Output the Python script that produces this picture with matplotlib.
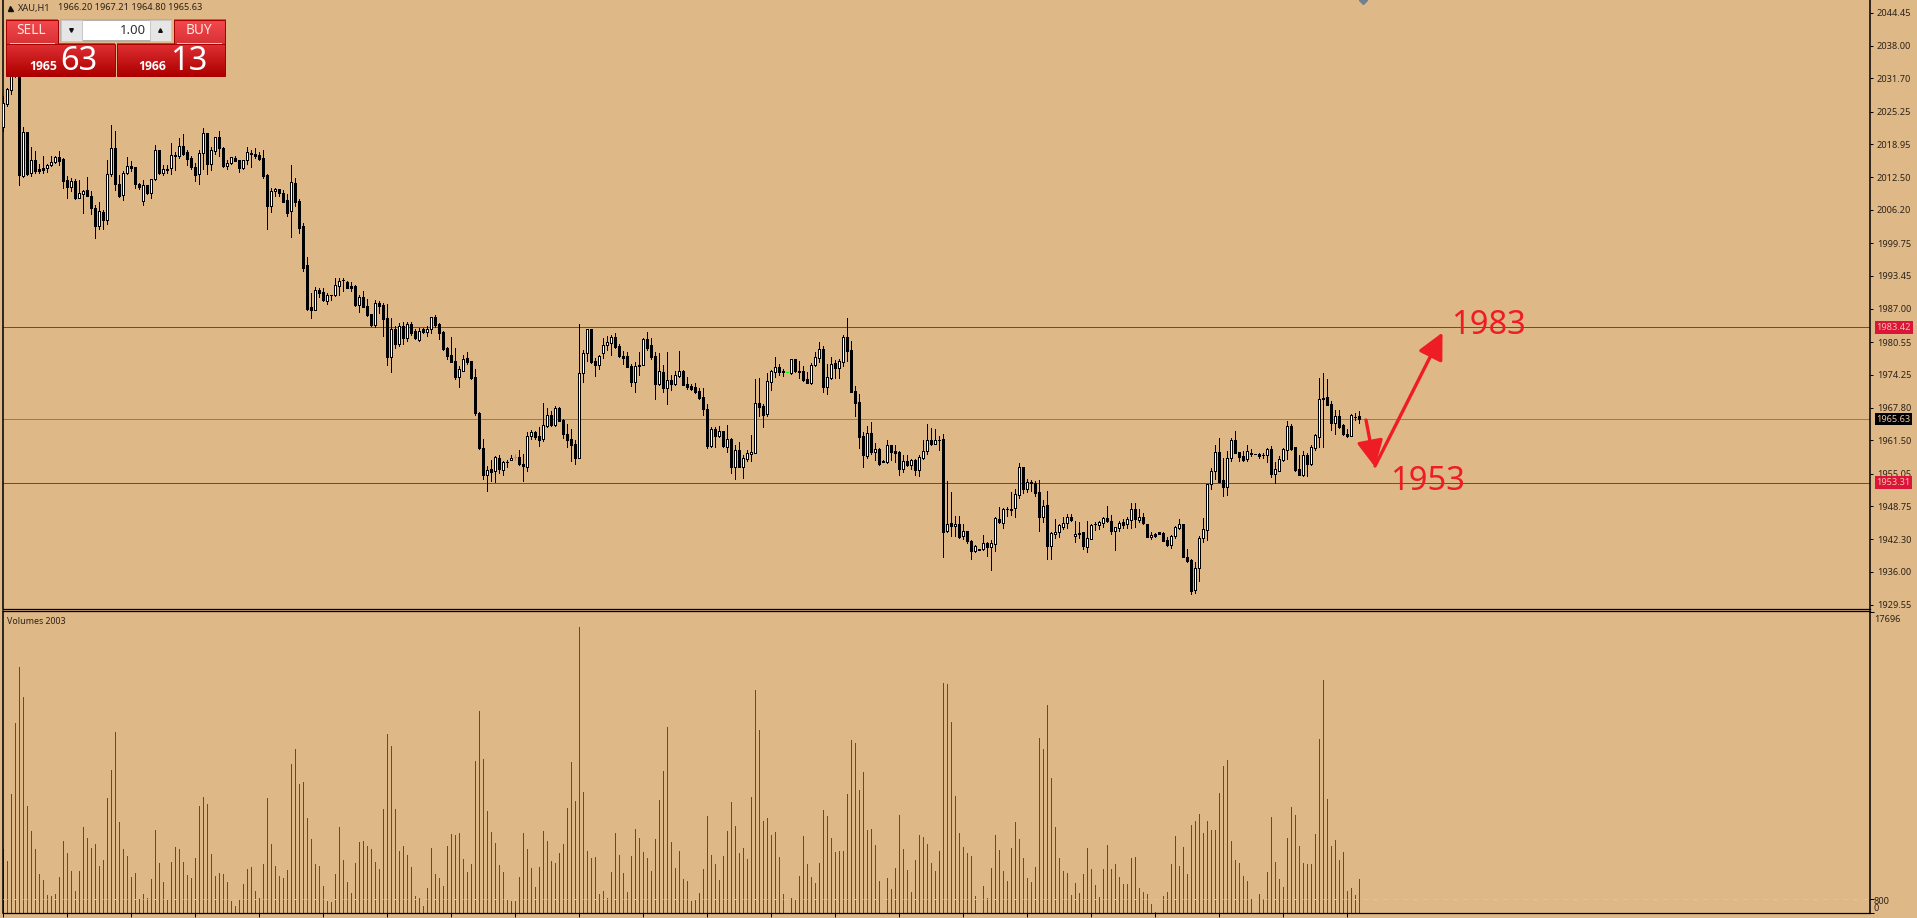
import numpy as np
import matplotlib
matplotlib.use('Agg')
import matplotlib.pyplot as plt
from matplotlib.patches import Rectangle

plt.rcParams['font.family'] = ['Noto Sans', 'DejaVu Sans']

# XAU H1 candles
opens = [
    2022.2,2026.8,2029.4,2033.0,2041.0,2012.7,2021.3,2013.3,2015.9,2014.1,
    2014.3,2014.3,2014.9,2015.5,2016.5,2016.1,2012.0,2010.7,2011.8,2008.6,
    2009.2,2010.1,2008.9,2006.5,2003.0,2005.8,2004.3,2013.1,2018.2,2011.3,
    2009.0,2013.3,2014.7,2014.5,2011.3,2008.0,2011.0,2009.4,2012.2,2017.8,
    2013.3,2014.1,2014.3,2016.9,2016.6,2018.5,2017.5,2016.3,2014.6,2013.1,
    2017.2,2021.2,2015.1,2017.7,2020.4,2018.3,2014.8,2015.3,2016.2,2015.9,
    2014.4,2015.9,2017.3,2017.0,2016.8,2016.3,2013.0,2007.0,2009.8,2010.2,
    2009.5,2008.1,2006.0,2011.5,2008.0,2003.1,1995.5,1987.4,1986.8,1990.6,
    1990.2,1988.6,1989.6,1989.6,1991.5,1992.6,1992.3,1991.4,1991.4,1987.8,
    1989.3,1987.6,1986.0,1983.9,1988.1,1987.8,1985.2,1977.6,1983.1,1980.1,
    1983.6,1981.3,1984.1,1982.8,1981.0,1983.0,1982.6,1983.0,1985.4,1984.0,
    1982.5,1979.5,1978.0,1976.8,1973.8,1975.0,1977.5,1976.8,1973.7,1966.8,
    1960.0,1954.7,1955.9,1955.6,1958.1,1955.7,1957.2,1957.7,1958.2,1958.2,
    1957.0,1956.3,1962.3,1963.2,1962.3,1961.7,1964.2,1966.5,1964.4,1967.7,
    1965.4,1962.8,1961.7,1960.7,1958.0,1974.5,1978.4,1983.0,1976.9,1976.1,
    1978.4,1979.9,1980.4,1981.5,1979.8,1977.8,1977.8,1975.9,1972.8,1975.9,
    1976.1,1981.1,1979.9,1977.8,1972.4,1974.7,1971.6,1973.2,1972.4,1974.0,
    1974.9,1972.4,1972.0,1971.8,1971.0,1969.9,1967.5,1960.4,1963.6,1962.3,
    1963.3,1960.2,1961.7,1956.3,1959.6,1956.3,1957.8,1958.9,1959.0,1968.7,
    1968.1,1966.6,1972.8,1974.7,1975.7,1975.0,1974.7,1974.5,1977.2,1975.0,
    1974.9,1973.4,1972.6,1976.1,1977.5,1979.3,1971.8,1973.6,1976.5,1975.5,
    1976.7,1981.5,1979.0,1971.0,1968.9,1962.3,1958.4,1962.9,1959.2,1959.8,
    1957.4,1957.3,1960.5,1959.4,1959.2,1955.9,1957.4,1956.7,1957.6,1955.7,
    1958.0,1959.4,1961.6,1960.7,1961.6,1961.7,1944.0,1945.4,1944.8,1945.3,
    1942.9,1944.0,1942.0,1940.0,1940.4,1940.4,1941.6,1940.8,1941.4,1946.3,
    1945.5,1948.2,1948.2,1948.4,1950.8,1956.3,1952.1,1953.5,1953.3,1951.4,
    1946.6,1948.9,1941.0,1943.3,1943.7,1944.6,1945.4,1946.7,1942.9,1943.6,
    1943.7,1940.8,1942.4,1945.3,1945.1,1945.5,1946.5,1945.9,1943.9,1944.5,
    1945.6,1945.2,1946.0,1948.1,1946.1,1946.7,1945.3,1942.7,1943.3,1943.8,
    1943.5,1942.1,1941.1,1942.9,1944.4,1945.2,1938.9,1938.2,1932.5,1936.8,
    1942.5,1944.1,1953.0,1955.6,1959.3,1953.8,1952.4,1958.0,1961.5,1959.2,
    1958.4,1957.8,1959.0,1958.9,1958.9,1958.7,1958.6,1959.8,1954.9,1955.6,
    1957.6,1959.7,1964.2,1960.2,1955.9,1954.7,1958.6,1956.9,1960.0,1962.2,
    1969.8,1969.9,1968.5,1964.8,1966.2,1964.4,1962.8,1962.3,1966.0,1966.2,
]
closes = [
    2026.9,2029.6,2033.0,2041.0,2012.9,2021.3,2013.2,2015.9,2013.8,2013.8,
    2014.0,2014.9,2015.5,2016.5,2015.7,2011.9,2010.6,2011.8,2008.6,2009.4,
    2009.8,2008.8,2006.5,2003.0,2005.9,2004.3,2013.1,2018.2,2011.3,2008.9,
    2013.3,2014.7,2014.3,2011.3,2010.7,2011.0,2009.4,2012.2,2017.8,2013.3,
    2014.1,2013.9,2016.8,2016.6,2018.6,2017.1,2016.1,2014.5,2013.0,2017.2,
    2021.2,2015.1,2017.8,2020.4,2018.2,2014.7,2015.3,2016.4,2015.7,2014.4,
    2015.9,2017.5,2017.0,2016.7,2016.1,2012.8,2007.0,2009.8,2010.2,2009.4,
    2007.8,2005.6,2011.6,2007.8,2002.7,1994.9,1987.0,1986.8,1990.6,1990.0,
    1988.7,1989.6,1989.6,1991.6,1992.5,1992.6,1991.0,1991.0,1987.8,1989.3,
    1987.4,1985.8,1983.8,1988.1,1987.6,1985.1,1977.6,1983.1,1980.1,1983.6,
    1981.3,1984.0,1982.4,1981.3,1982.8,1982.6,1983.1,1985.4,1983.8,1982.3,
    1979.3,1977.8,1976.7,1973.7,1975.3,1977.2,1976.7,1973.6,1966.8,1960.0,
    1954.7,1955.8,1955.3,1958.3,1955.9,1957.2,1957.2,1958.1,1958.2,1956.9,
    1956.5,1962.4,1963.2,1962.1,1961.5,1964.4,1966.5,1964.4,1967.7,1965.3,
    1962.7,1961.5,1960.5,1958.0,1974.5,1978.4,1983.0,1976.7,1976.1,1977.8,
    1979.9,1980.5,1981.5,1979.6,1977.8,1977.5,1975.7,1972.8,1975.9,1976.2,
    1981.1,1979.5,1977.6,1972.4,1974.9,1971.6,1973.2,1972.4,1974.1,1974.9,
    1972.2,1971.8,1971.4,1970.8,1969.7,1967.5,1960.4,1963.6,1962.3,1963.3,
    1960.4,1961.7,1956.3,1959.6,1956.3,1958.0,1959.0,1959.2,1968.7,1967.9,
    1966.4,1973.0,1974.9,1975.7,1974.7,1974.7,1974.7,1977.2,1974.9,1974.7,
    1973.2,1972.6,1976.2,1977.6,1979.3,1971.8,1973.7,1976.4,1975.5,1976.8,
    1981.5,1978.8,1970.8,1968.7,1962.1,1958.6,1962.9,1959.2,1959.8,1956.9,
    1957.3,1960.5,1959.2,1959.0,1955.9,1957.4,1956.7,1957.6,1955.7,1958.2,
    1959.5,1961.6,1960.7,1961.6,1961.6,1943.8,1945.3,1944.8,1945.3,1942.7,
    1944.0,1942.0,1940.0,1940.9,1940.3,1941.6,1940.8,1941.5,1946.5,1945.6,
    1948.2,1948.1,1948.0,1951.0,1956.3,1952.1,1953.5,1953.3,1951.2,1946.6,
    1948.8,1941.0,1943.5,1943.8,1945.0,1945.5,1946.7,1946.1,1943.4,1943.3,
    1941.0,1942.6,1945.1,1945.3,1945.6,1946.5,1945.9,1943.9,1944.6,1945.5,
    1945.1,1946.3,1948.1,1946.2,1946.7,1945.5,1942.7,1943.2,1943.0,1943.3,
    1942.0,1941.1,1942.9,1944.6,1945.2,1938.8,1938.0,1932.3,1936.8,1942.6,
    1944.2,1953.0,1955.6,1959.3,1953.5,1952.4,1958.0,1961.5,1959.0,1958.2,
    1957.6,1959.4,1958.9,1958.9,1958.4,1958.6,1959.8,1954.9,1955.9,1957.8,
    1959.8,1964.2,1959.9,1955.7,1954.7,1958.6,1956.9,1960.2,1962.5,1969.6,
    1969.6,1968.3,1964.8,1966.2,1964.0,1962.7,1962.3,1966.4,1966.0,1965.63,
]
highs = [
    2028.2,2029.8,2035.0,2043.0,2042.0,2022.3,2021.3,2018.4,2017.7,2015.1,
    2016.7,2015.1,2016.7,2016.7,2017.7,2016.2,2012.7,2012.4,2012.2,2012.0,
    2010.1,2012.6,2009.8,2007.2,2007.8,2006.2,2015.9,2022.7,2021.6,2013.0,
    2013.8,2016.5,2015.7,2014.6,2011.4,2012.0,2011.1,2012.2,2018.8,2017.8,
    2014.9,2014.9,2019.2,2017.4,2020.2,2021.0,2017.8,2016.7,2015.3,2017.9,
    2022.1,2021.2,2018.4,2020.4,2021.6,2018.4,2015.9,2016.5,2016.7,2015.9,
    2015.9,2018.4,2017.9,2018.2,2017.5,2017.8,2013.1,2010.4,2010.4,2010.3,
    2010.0,2009.3,2014.9,2012.4,2008.4,2003.7,1997.1,1990.0,1991.2,1991.0,
    1991.0,1990.0,1989.6,1993.0,1993.0,1993.0,1992.5,1992.2,1991.6,1989.6,
    1990.5,1988.9,1986.0,1988.7,1988.5,1988.1,1987.9,1985.2,1983.7,1984.2,
    1984.4,1984.5,1984.5,1983.1,1983.3,1983.3,1983.6,1985.4,1985.8,1984.2,
    1982.7,1979.6,1981.5,1979.4,1976.0,1978.0,1978.7,1976.8,1975.3,1967.0,
    1961.8,1956.6,1957.6,1958.4,1958.7,1957.4,1957.6,1958.7,1958.9,1959.6,
    1958.8,1963.1,1963.5,1963.4,1964.0,1968.7,1967.7,1967.1,1968.1,1967.9,
    1965.7,1964.6,1963.7,1961.6,1984.1,1979.0,1983.1,1983.1,1977.4,1978.0,
    1981.3,1981.7,1981.9,1982.3,1980.2,1978.8,1978.6,1976.3,1976.7,1978.6,
    1981.3,1982.5,1981.3,1978.7,1978.4,1976.2,1978.6,1974.2,1974.9,1978.8,
    1975.2,1973.8,1972.4,1972.6,1971.6,1971.6,1968.5,1964.0,1964.0,1964.2,
    1963.3,1964.4,1961.9,1960.5,1961.1,1958.6,1959.6,1962.5,1973.4,1973.6,
    1968.5,1974.5,1975.1,1977.6,1976.3,1975.3,1974.7,1977.2,1977.3,1976.9,
    1975.9,1974.7,1976.5,1978.6,1980.6,1979.8,1976.3,1977.6,1977.1,1977.3,
    1981.9,1985.2,1980.8,1972.0,1970.5,1963.1,1964.2,1965.0,1960.9,1960.0,
    1957.6,1961.5,1960.5,1960.5,1959.4,1958.6,1958.6,1957.8,1957.8,1958.6,
    1961.5,1964.6,1963.8,1963.7,1962.3,1962.8,1953.7,1951.4,1946.8,1946.8,
    1945.3,1944.0,1942.1,1941.1,1940.4,1943.1,1941.8,1942.1,1946.6,1948.6,
    1948.4,1948.6,1951.5,1952.1,1957.1,1956.3,1953.9,1953.8,1953.6,1953.8,
    1949.9,1951.6,1943.7,1946.2,1945.3,1946.6,1947.3,1947.2,1945.9,1945.7,
    1943.8,1945.9,1945.2,1945.7,1945.9,1946.6,1948.7,1947.0,1944.7,1945.9,
    1946.2,1946.6,1949.4,1949.4,1948.2,1947.4,1945.3,1943.7,1943.5,1943.8,
    1943.8,1942.8,1943.2,1944.8,1946.3,1945.3,1940.5,1938.4,1937.8,1942.9,
    1946.5,1953.1,1956.1,1960.5,1962.0,1958.0,1959.4,1962.0,1963.3,1959.3,
    1959.4,1960.5,1959.8,1958.9,1959.1,1959.1,1960.0,1960.4,1957.3,1958.4,
    1960.0,1965.2,1964.6,1960.2,1958.6,1959.4,1959.0,1960.5,1962.7,1973.6,
    1974.5,1973.4,1969.1,1967.4,1967.4,1964.6,1963.7,1966.6,1966.8,1967.21,
]
lows = [
    2021.6,2026.4,2028.7,2032.0,2011.1,2012.6,2013.0,2012.8,2013.4,2013.4,
    2013.4,2013.6,2014.7,2015.3,2014.9,2010.5,2008.5,2009.9,2008.4,2008.5,
    2005.6,2008.8,2005.4,2000.8,2002.5,2002.5,2003.5,2012.7,2010.0,2008.7,
    2008.2,2013.2,2013.8,2010.5,2010.2,2007.2,2009.3,2008.5,2012.0,2013.2,
    2013.0,2013.3,2013.2,2013.9,2016.3,2016.9,2015.0,2014.2,2011.9,2011.3,
    2014.2,2013.2,2014.0,2017.1,2016.7,2014.6,2014.2,2015.1,2015.7,2013.6,
    2014.2,2015.1,2014.6,2016.3,2015.9,2012.4,2002.5,2005.8,2008.8,2008.8,
    2007.8,2005.0,2001.0,2007.0,2001.7,1994.4,1986.7,1985.2,1986.8,1989.3,
    1988.5,1987.9,1988.7,1989.5,1989.7,1990.5,1991.0,1990.5,1987.6,1986.4,
    1987.4,1985.6,1983.7,1983.5,1986.2,1981.7,1976.1,1974.7,1979.4,1979.8,
    1980.2,1980.8,1981.9,1981.1,1980.7,1982.3,1981.7,1982.3,1983.5,1981.2,
    1979.1,1977.3,1976.7,1973.4,1971.8,1974.9,1976.3,1973.4,1966.5,1959.8,
    1953.9,1951.6,1953.7,1953.5,1955.1,1954.7,1956.4,1957.6,1957.6,1956.8,
    1953.6,1955.5,1961.8,1961.8,1960.4,1961.3,1964.0,1964.2,1964.2,1965.2,
    1961.9,1960.2,1957.4,1956.9,1958.0,1972.8,1976.9,1976.5,1973.9,1975.3,
    1977.5,1979.0,1978.0,1979.4,1977.6,1976.3,1975.7,1972.0,1970.8,1974.1,
    1976.1,1979.0,1977.3,1969.5,1972.2,1970.8,1968.5,1971.2,1972.2,1973.7,
    1972.2,1971.4,1971.2,1970.7,1969.5,1966.4,1960.0,1960.2,1960.2,1962.1,
    1960.2,1959.2,1955.1,1953.9,1956.3,1954.1,1957.4,1957.4,1959.0,1966.2,
    1964.0,1966.2,1971.2,1973.8,1974.1,1974.0,1974.7,1974.3,1974.7,1973.6,
    1973.0,1972.6,1972.4,1975.9,1976.7,1970.8,1970.5,1973.4,1973.6,1973.6,
    1975.9,1976.9,1970.8,1966.2,1960.0,1956.3,1958.0,1958.8,1957.6,1956.7,
    1957.2,1957.1,1957.6,1957.3,1954.7,1955.3,1956.5,1955.9,1954.7,1954.5,
    1957.8,1958.8,1960.5,1960.7,1959.6,1938.8,1943.8,1942.9,1942.9,1942.5,
    1942.4,1941.5,1938.4,1939.8,1940.2,1940.2,1939.0,1936.3,1940.0,1945.5,
    1944.5,1946.8,1947.0,1946.6,1950.4,1951.2,1951.4,1951.7,1950.7,1943.9,
    1945.6,1938.4,1938.4,1942.6,1942.7,1944.2,1944.5,1945.8,1941.8,1942.5,
    1940.5,1939.8,1942.4,1944.1,1944.3,1944.7,1945.7,1943.4,1940.3,1943.9,
    1944.5,1944.5,1944.5,1944.7,1945.7,1945.3,1942.7,1942.3,1942.7,1943.3,
    1941.9,1941.0,1940.6,1942.6,1944.3,1938.8,1937.9,1931.6,1931.9,1934.3,
    1941.8,1942.1,1952.1,1953.9,1953.4,1950.7,1950.8,1957.5,1959.0,1957.5,
    1957.5,1957.5,1958.4,1958.9,1958.0,1958.0,1957.3,1954.3,1953.3,1955.5,
    1957.5,1957.8,1959.6,1955.5,1954.7,1954.5,1954.5,1956.7,1959.6,1960.2,
    1960.2,1968.3,1963.5,1962.7,1963.9,1962.5,1962.1,1962.3,1965.4,1964.80,
]
volumes = [
    3783,3077,7017,11192,14484,12720,6311,4841,3783,2313,
    1960,1078,1019,1137,2136,4253,3548,2489,1313,2489,
    5076,4430,3842,4077,2783,3136,6782,8428,10662,5370,
    3783,3371,2136,2372,843,1137,902,2019,4900,2960,
    1842,784,3018,3900,3783,3018,2254,2078,3254,6311,
    6840,6429,3489,2195,2372,2313,1842,725,431,784,
    1725,2607,2724,1313,902,2901,6782,4077,2783,2195,
    2078,2548,8781,9663,7605,7722,5606,4371,2901,2783,
    1607,725,666,2313,5076,3136,1842,1196,2960,4194,
    4253,3959,3783,3018,2607,6135,10545,9839,6135,3665,
    3959,3430,2724,1019,902,431,1490,3842,2313,2078,
    1607,3959,4665,4606,4724,3195,2430,2901,8957,11897,
    9075,6017,4782,4136,2842,2430,784,725,725,2136,
    4724,3783,2666,1548,2724,4841,4253,3077,2960,3548,
    4077,6194,8898,6605,16836,7134,3665,3254,3312,1137,
    1313,902,2430,4724,3430,2372,1254,3371,4959,4430,
    3606,3254,2489,4371,6664,8369,10956,4194,2666,3665,
    2019,1901,725,784,1196,2607,5723,3430,2901,1960,
    3371,4841,6546,5135,3548,3842,3195,6840,13132,10780,
    5429,5606,4606,4782,3312,1137,0,902,843,2195,
    4547,2901,2136,1784,2960,6076,5723,4430,3606,3620,
    3665,7017,10192,10016,7252,8310,4900,4959,4018,1901,
    0,2078,1431,2666,5782,3783,2548,1254,3136,4606,
    4488,4077,2960,2489,3665,13544,13485,11250,6899,4724,
    3900,3548,3371,1019,0,1607,902,2666,4606,3724,
    2489,1901,3842,5370,4371,3254,2078,1842,2724,10310,
    9663,12250,7958,5076,3254,2489,2372,1078,1784,1196,
    2313,3842,2607,1666,960,2607,4018,2607,2901,2136,
    1725,1725,3254,3270,1490,1254,1137,549,78,0,
    1019,1254,2901,4547,2783,3900,2313,5194,5429,5841,
    4724,5429,4900,4900,7076,8663,9016,4253,3136,2960,
    2195,1901,843,0,1137,843,2430,5664,3018,2019,
    1548,4430,6252,5782,3959,2960,2901,2910,4665,10251,
    13720,6723,3959,4312,3136,3606,1313,1490,1078,2019,
]
doji_bars = [128, 196]
price_ticks = [2044.45, 2038.00, 2031.70, 2025.25, 2018.95, 2012.50, 2006.20, 1999.75,
               1993.45, 1987.00, 1980.55, 1974.25, 1967.80, 1961.50, 1955.05, 1948.75,
               1942.30, 1936.00, 1929.55]
level_high = 1983.42
level_low = 1953.31
last_price = 1965.63

BG = '#DEB887'
W, H = 1917, 918
PX = 0.72  # one pixel in points at dpi 100
LABEL = '#2b2118'

fig = plt.figure(figsize=(W / 100, H / 100), dpi=100, facecolor=BG)

# --- price pane ---
ax = fig.add_axes([2.5 / W, (H - 608.5) / H, 1867.8 / W, 608.5 / H], facecolor=BG)
x = np.arange(len(opens))
o, c, hi, lo = map(np.array, (opens, closes, highs, lows))
edge = ['#00FF00' if i in doji_bars else 'black' for i in x]
body = ['white' if c[i] > o[i] else ('#00FF00' if i in doji_bars else 'black') for i in x]

ax.axhline(level_high, color='#DC143C', lw=PX, antialiased=False, zorder=1)
ax.axhline(level_low, color='#DC143C', lw=PX, antialiased=False, zorder=1)
ax.axhline(last_price, color='#808080', lw=PX, antialiased=False, zorder=1)
ax.vlines(x, lo, hi, colors=edge, lw=PX, antialiased=False, zorder=2)
ax.bar(x, c - o, bottom=o, width=0.5, color=body, edgecolor=edge, linewidth=PX,
       antialiased=False, zorder=3)

ax.set_xlim(-0.2, 466.75)
ax.set_ylim(1928.87, 2046.92)
ax.yaxis.tick_right()
ax.set_yticks(price_ticks)
ax.set_yticklabels([f'{v:.2f}' for v in price_ticks], fontsize=6.6, color=LABEL)
ax.tick_params(axis='y', length=2.2, width=PX, pad=2.5)
ax.set_xticks([])
ax.spines['top'].set_visible(False)
for s in ['left', 'right']:
    ax.spines[s].set_linewidth(1.1)
ax.spines['bottom'].set_linewidth(0.9)

for val, col in [(level_high, '#DC143C'), (level_low, '#DC143C'), (last_price, 'black')]:
    ax.annotate(f'{val:.2f}', xy=(1, val), xycoords=('axes fraction', 'data'),
                xytext=(4.4, 0), textcoords='offset points', va='center', ha='left',
                fontsize=6.6, color='#F0C8A0', annotation_clip=False,
                bbox=dict(boxstyle='square,pad=0.2', fc=col, ec=col, lw=0))

# --- volume pane ---
ax2 = fig.add_axes([2.5 / W, (H - 913) / H, 1867.8 / W, 302.3 / H], facecolor=BG)
vol = np.array(volumes)
rising = np.r_[False, vol[1:] > vol[:-1]]
vol_colors = np.where(rising, '#1A7A00', '#EE1100')
ax2.vlines(x, 0, vol, colors=vol_colors, lw=PX, antialiased=False, zorder=2)
ax2.axhline(800, color='#C8C8C8', lw=PX, ls=(0, (4, 6)), zorder=3)
ax2.set_xlim(-0.2, 466.75)
ax2.set_ylim(0, 17776)
ax2.yaxis.tick_right()
ax2.set_yticks([0, 800, 17696])
ax2.set_yticklabels([])
ax2.set_xticks(np.arange(0, len(opens), 16))
ax2.set_xticklabels([])
ax2.tick_params(length=2.8, width=PX)
for s in ax2.spines.values():
    s.set_linewidth(0.9)
for s in ['left', 'right']:
    ax2.spines[s].set_linewidth(1.1)

# --- overlay in screen pixels: order panel, labels, hand drawn arrows ---
ui = fig.add_axes([0, 0, 1, 1], facecolor='none', zorder=5)
ui.set_axis_off()


def grad(x0, y0, x1, y1, top, bottom):
    g = np.linspace(np.array(matplotlib.colors.to_rgb(top)),
                    np.array(matplotlib.colors.to_rgb(bottom)), 32).reshape(32, 1, 3)
    ui.imshow(g, extent=(x0, x1, y1, y0), aspect='auto', zorder=2, interpolation='bilinear')
    ui.add_patch(Rectangle((x0, y0), x1 - x0, y1 - y0, fc='none', ec='#A80000', lw=PX, zorder=3))


grad(6, 19.5, 57.5, 43.5, '#F5484E', '#D83438')
grad(173.5, 19.5, 225, 43.5, '#F5484E', '#D83438')
grad(6, 43.5, 115, 76, '#E03034', '#AE0000')
grad(117, 43.5, 225, 76, '#E03034', '#AE0000')
ui.plot([10, 54], [42.7, 42.7], color='#F8C0B8', lw=PX, zorder=4)
ui.plot([177, 221], [42.7, 42.7], color='#F8C0B8', lw=PX, zorder=4)

ui.add_patch(Rectangle((60.5, 19.5), 110.5, 21.5, fc='white', ec='#B4B0A8', lw=1.4, zorder=2))
ui.add_patch(Rectangle((61, 20), 20.5, 20.5, fc='#E6E6E6', ec='#C8C8C8', lw=PX, zorder=3))
ui.add_patch(Rectangle((149.5, 20), 21, 20.5, fc='#E6E6E6', ec='#C8C8C8', lw=PX, zorder=3))
ui.plot([70.5], [29.5], marker='v', ms=2.6, color='#111111', zorder=4)
ui.plot([159.5], [29.5], marker='^', ms=2.6, color='#111111', zorder=4)
ui.plot([9.5], [7.5], marker='^', ms=3.6, color='#111111', zorder=4)
ui.plot([1363], [0], marker='D', ms=4.5, color='#708090', zorder=4, clip_on=True)

ui.text(18, 8, 'XAU,H1', fontsize=6.6, color=LABEL, va='center')
ui.text(58, 8, '1966.20 1967.21 1964.80 1965.63', fontsize=6.6, color=LABEL, va='center')
ui.text(31, 30, 'SELL', fontsize=9.8, color='#FFE8E0', ha='center', va='center', zorder=5)
ui.text(198.5, 30, 'BUY', fontsize=9.8, color='#FFE8E0', ha='center', va='center', zorder=5)
ui.text(146, 30, '1.00', fontsize=9.4, color='#303030', ha='right', va='center', zorder=5)
ui.text(57.5, 66.5, '1965', fontsize=8.8, family='Open Sans', fontweight='bold', color='white',
        ha='right', va='center', zorder=5)
ui.text(60, 61, '63', fontsize=23.5, color='white', ha='left', va='center', zorder=5)
ui.text(166.5, 66.5, '1966', fontsize=8.8, family='Open Sans', fontweight='bold', color='white',
        ha='right', va='center', zorder=5)
ui.text(170, 61, '13', fontsize=23.5, color='white', ha='left', va='center', zorder=5)

ui.text(7, 621, 'Volumes 2003', fontsize=6.4, color=LABEL, va='center')
ui.text(1874, 619, '17696', fontsize=6.6, color=LABEL, va='center')
ui.text(1873, 901, '800', fontsize=6.6, color=LABEL, va='center')
ui.text(1873, 908.5, '0', fontsize=6.6, color=LABEL, va='center')

RED = '#EE1C25'
for start, tip in [((1366, 420), (1375, 467)), ((1375, 466), (1442.5, 332.5))]:
    ui.annotate('', xy=tip, xytext=start, zorder=6,
                arrowprops=dict(arrowstyle='-|>,head_length=1.0,head_width=0.5', color=RED, lw=2.4,
                                mutation_scale=16, shrinkA=0, shrinkB=0))
ui.text(1451.5, 326, '1983', fontsize=23.5, color=RED, va='center', ha='left', zorder=6)
ui.text(1390, 482, '1953', fontsize=23.5, color=RED, va='center', ha='left', zorder=6)

ui.set_xlim(0, W)
ui.set_ylim(H, 0)

fig.savefig('out.png', dpi=100, facecolor=BG)
